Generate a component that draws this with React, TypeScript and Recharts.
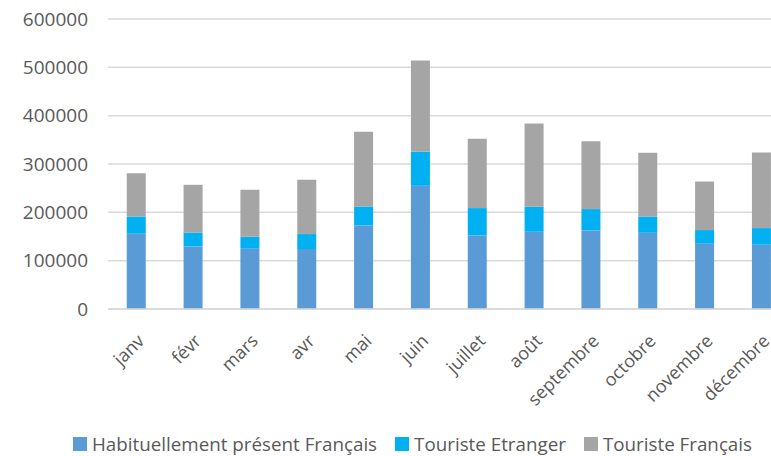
import { BarChart, Bar, XAxis, YAxis, CartesianGrid, Legend } from 'recharts';

const months = ['janv', 'févr', 'mars', 'avr', 'mai', 'juin', 'juillet', 'août', 'septembre', 'octobre', 'novembre', 'décembre'];
const habituel = [155600, 129400, 124600, 124000, 172800, 254900, 152100, 159800, 162500, 157700, 135000, 132900];
const touristeEtranger = [35800, 28900, 24800, 31000, 39300, 70900, 56700, 51700, 44200, 33700, 28300, 34500];
const touristeFrancais = [89600, 98700, 97200, 112300, 154400, 188100, 143200, 172100, 140500, 131700, 100500, 156300];
const yTicks = [0, 100000, 200000, 300000, 400000, 500000, 600000];

const data = months.map((m, i) => ({
  month: m,
  habituel: habituel[i],
  etranger: touristeEtranger[i],
  francais: touristeFrancais[i],
}));

const font = '"Open Sans", sans-serif';

const renderLegend = (props: any) => {
  const { payload } = props;
  return (
    <div style={{ display: 'flex', paddingLeft: 73, height: 24, alignItems: 'center', fontFamily: font, fontSize: 18.8, color: '#595959', whiteSpace: 'nowrap' }}>
      {payload.map((entry: any) => (
        <div key={entry.value} style={{ display: 'flex', alignItems: 'center', marginRight: 18 }}>
          <span style={{ display: 'inline-block', width: 14, height: 14, background: entry.color, marginRight: 5 }} />
          <span>{entry.value}</span>
        </div>
      ))}
    </div>
  );
};

export default function App() {
  return (
    <div style={{ position: 'absolute', left: 0, top: 0, width: 771, height: 456, overflow: 'hidden', background: '#fff' }}>
      <BarChart
        width={800}
        height={456}
        data={data}
        margin={{ top: 19, right: 10, bottom: 0, left: 0 }}
        barCategoryGap="33%"
      >
        <CartesianGrid vertical={false} stroke="#d9d9d9" strokeWidth={1.5} />
        <XAxis
          dataKey="month"
          height={123}
          interval={0}
          angle={-45}
          textAnchor="end"
          tickLine={false}
          axisLine={{ stroke: '#d9d9d9', strokeWidth: 1.5 }}
          tick={{ fill: '#595959', fontSize: 18, fontFamily: font }}
          tickMargin={18}
        />
        <YAxis
          width={108}
          domain={[0, 600000]}
          ticks={yTicks}
          interval={0}
          tickLine={false}
          axisLine={false}
          tick={{ fill: '#595959', fontSize: 19, fontFamily: font }}
          tickMargin={14}
        />
        <Legend verticalAlign="bottom" content={renderLegend} />
        <Bar dataKey="habituel" name="Habituellement présent Français" stackId="a" fill="#5b9bd5" isAnimationActive={false} />
        <Bar dataKey="etranger" name="Touriste Etranger" stackId="a" fill="#00b0f0" isAnimationActive={false} />
        <Bar dataKey="francais" name="Touriste Français" stackId="a" fill="#a5a5a5" isAnimationActive={false} />
      </BarChart>
    </div>
  );
}
